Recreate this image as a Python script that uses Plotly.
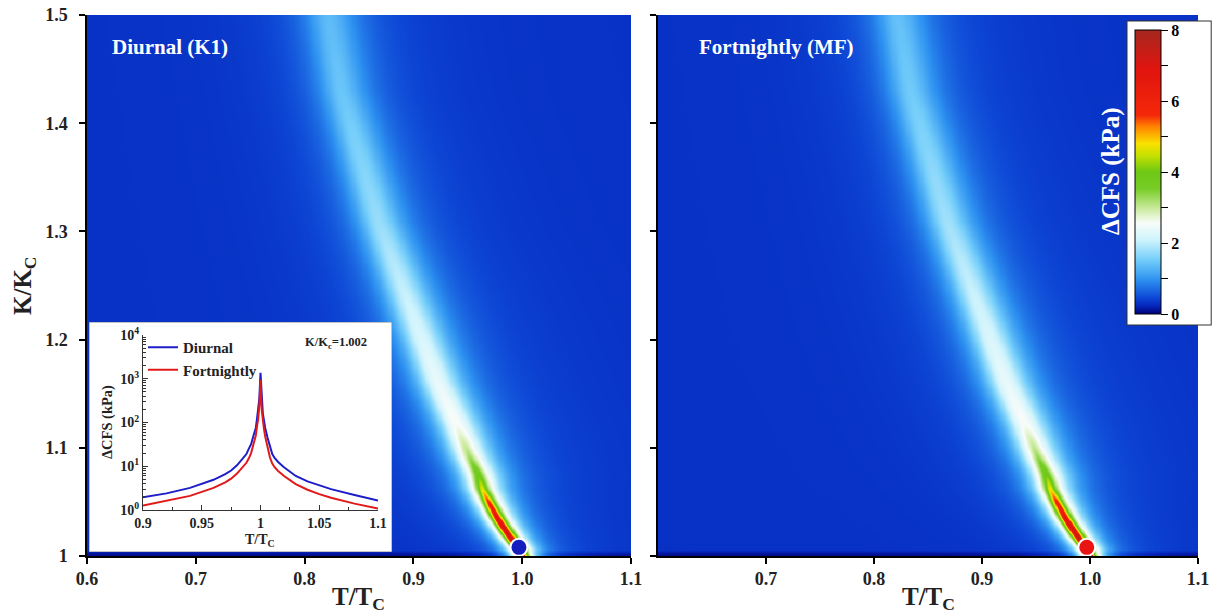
import numpy as np
import plotly.graph_objects as go

# ---- ridge of the ΔCFS response (K/Kc -> resonant T/Tc, amplitudes in kPa) ----
ridge_K = [1.000, 1.008, 1.020, 1.035, 1.050, 1.062, 1.076, 1.095, 1.120, 1.160, 1.220, 1.310, 1.430, 1.500]
ridge_T = [1.000, 0.996, 0.987, 0.977, 0.969, 0.963, 0.959, 0.950, 0.940, 0.922, 0.900, 0.867, 0.833, 0.821]
halo_peak_k1 = [2.8, 2.8, 2.75, 2.7, 2.65, 2.6, 2.55, 2.45, 2.3, 2.1, 1.85, 1.45, 1.15, 1.05]
halo_peak_mf = [2.8, 2.8, 2.75, 2.7, 2.65, 2.6, 2.55, 2.45, 2.3, 2.1, 1.85, 1.5, 1.2, 1.1]
halo_width = [0.009, 0.010, 0.011, 0.012, 0.013, 0.014, 0.015, 0.016, 0.017, 0.018, 0.019, 0.020, 0.021, 0.022]
core_peak_k1 = [4.5, 4.5, 4.3, 3.8, 2.8, 1.8, 1.0, 0.4, 0.0, 0.0, 0.0, 0.0, 0.0, 0.0]
core_peak_mf = [4.6, 4.6, 4.4, 3.9, 2.9, 1.9, 1.1, 0.45, 0.0, 0.0, 0.0, 0.0, 0.0, 0.0]
core_width = [0.0034, 0.0034, 0.0036, 0.0038, 0.004, 0.0042, 0.0044, 0.0044, 0.0044, 0.0044, 0.0044, 0.0044, 0.0044, 0.0044]
floor_K = [1.000, 1.0025, 1.006, 1.500]
floor_val = [0.06, 0.10, 0.30, 0.30]

# ---- inset: ΔCFS at K/Kc = 1.002 ----
inset_T = [0.9, 0.92, 0.94, 0.95, 0.96, 0.97, 0.975, 0.98, 0.985, 0.988, 0.99, 0.992, 0.994,
           0.996, 0.997, 0.998, 0.999, 1.0, 1.001, 1.002, 1.003, 1.004, 1.006, 1.008, 1.01,
           1.012, 1.015, 1.02, 1.03, 1.04, 1.05, 1.06, 1.08, 1.1]
inset_diurnal = [1.95, 2.4, 3.2, 3.9, 4.9, 6.6, 8.0, 10.5, 15, 19, 25, 32, 50,
                 75, 120, 180, 350, 1370, 300, 160, 110, 75, 45, 27, 19,
                 15.5, 12.5, 9.5, 6.0, 4.5, 3.6, 3.0, 2.2, 1.65]
inset_fortnightly = [1.26, 1.6, 2.1, 2.6, 3.2, 4.3, 5.2, 6.8, 9.5, 12, 15, 20, 32,
                     50, 80, 120, 240, 950, 200, 105, 70, 48, 28, 16, 11.5,
                     9.5, 7.8, 6.0, 3.9, 2.9, 2.3, 1.9, 1.4, 1.08]

# ---- source points ----
dot_T = [0.997]
dot_K = [1.008]

x_ticks = [0.6, 0.7, 0.8, 0.9, 1.0, 1.1]
x_ticktext = ["0.6", "0.7", "0.8", "0.9", "1.0", "1.1"]
y_ticks = [1.0, 1.1, 1.2, 1.3, 1.4, 1.5]
y_ticktext = ["1", "1.1", "1.2", "1.3", "1.4", "1.5"]
cb_ticks = [0, 1, 2, 3, 4, 5, 6, 7, 8]
cb_ticktext = ["0", "", "2", "", "4", "", "6", "", "8"]
log_minor = [m * 10 ** e for e in range(4) for m in range(2, 10)]

# grid
T = np.linspace(0.6, 1.1, 501)
K = np.linspace(1.0, 1.5, 501)
TT, KK = np.meshgrid(T, K)


def field(halo_peak, core_peak):
    tr = np.interp(KK, ridge_K, ridge_T)
    hp = np.interp(KK, ridge_K, halo_peak)
    hw = np.interp(KK, ridge_K, halo_width)
    cp = np.interp(KK, ridge_K, core_peak)
    cw = np.interp(KK, ridge_K, core_width)
    fl = np.interp(KK, floor_K, floor_val)
    d = TT - tr
    hw_side = np.where(d > 0, hw * 1.25, hw)
    return fl + hp / (1 + (d / hw_side) ** 2) + cp / (1 + (d / cw) ** 2)


z_k1 = field(halo_peak_k1, core_peak_k1)
z_mf = field(halo_peak_mf, core_peak_mf)

colorscale = [
    [0.00, "rgb(0,0,120)"],
    [0.03, "rgb(5,40,190)"],
    [0.06, "rgb(15,75,215)"],
    [0.12, "rgb(45,145,240)"],
    [0.19, "rgb(115,205,250)"],
    [0.26, "rgb(205,243,252)"],
    [0.32, "rgb(248,252,250)"],
    [0.37, "rgb(205,235,160)"],
    [0.44, "rgb(120,205,40)"],
    [0.50, "rgb(110,200,20)"],
    [0.56, "rgb(200,225,0)"],
    [0.60, "rgb(250,225,0)"],
    [0.66, "rgb(255,130,0)"],
    [0.70, "rgb(245,40,10)"],
    [0.86, "rgb(225,20,15)"],
    [1.00, "rgb(165,40,30)"],
]

SERIF = "Liberation Serif"
W, H = 1213, 613
NB = "\u00a0"


def px(x):
    return x / W


def py(y):
    return 1 - y / H


fig = go.Figure()

fig.add_trace(go.Heatmap(
    x=T, y=K, z=z_k1, zmin=0, zmax=8, colorscale=colorscale, zsmooth="best",
    showscale=False, xaxis="x", yaxis="y", hoverinfo="skip"))
fig.add_trace(go.Heatmap(
    x=T, y=K, z=z_mf, zmin=0, zmax=8, colorscale=colorscale, zsmooth="best",
    xaxis="x2", yaxis="y2", hoverinfo="skip",
    colorbar=dict(
        x=px(1128), xanchor="left", y=py(172), yanchor="middle",
        lenmode="pixels", len=302, thickness=26,
        bgcolor="white", bordercolor="#333", borderwidth=1,
        outlinecolor="black", outlinewidth=1, xpad=7, ypad=9,
        tickvals=cb_ticks, ticktext=[t + NB * 6 if t else t for t in cb_ticktext],
        ticks="outside", ticklen=7, tickcolor="black",
        tickfont=dict(family=SERIF, size=16, color="black", weight="bold"))))

fig.add_trace(go.Scatter(
    x=dot_T, y=dot_K, mode="markers", xaxis="x", yaxis="y", showlegend=False,
    marker=dict(size=17, color="rgb(20,30,190)", line=dict(color="white", width=2))))
fig.add_trace(go.Scatter(
    x=dot_T, y=dot_K, mode="markers", xaxis="x2", yaxis="y2", showlegend=False,
    marker=dict(size=17, color="rgb(235,20,20)", line=dict(color="white", width=2))))

# white panel behind the inset
fig.add_trace(go.Scatter(
    x=[0, 1, 1, 0, 0], y=[0, 0, 1, 1, 0], mode="lines", fill="toself",
    fillcolor="white", line=dict(color="#888", width=1), xaxis="x3", yaxis="y3",
    showlegend=False, hoverinfo="skip"))

fig.add_trace(go.Scatter(
    x=inset_T, y=inset_diurnal, mode="lines", name="Diurnal", xaxis="x4", yaxis="y4",
    line=dict(color="rgb(30,30,200)", width=2)))
fig.add_trace(go.Scatter(
    x=inset_T, y=inset_fortnightly, mode="lines", name="Fortnightly", xaxis="x4", yaxis="y4",
    line=dict(color="rgb(225,25,25)", width=2)))

tickfont = dict(family=SERIF, size=18, color="#222", weight="bold")
inset_tickfont = dict(family=SERIF, size=14, color="#222", weight="bold")
main_y_dom = [py(556), py(15)]
common = dict(showgrid=False, zeroline=False, automargin=False)

fig.update_layout(
    width=W, height=H,
    margin=dict(l=0, r=0, t=0, b=0, pad=0),
    paper_bgcolor="white", plot_bgcolor="white",
    xaxis=dict(domain=[px(87), px(631)], range=[0.6, 1.1], tickvals=x_ticks, ticktext=x_ticktext,
               ticks="outside", ticklen=6, tickwidth=1.5, tickcolor="black", showline=True,
               linecolor="black", linewidth=1.5, tickfont=tickfont, anchor="y", **common),
    yaxis=dict(domain=main_y_dom, range=[1.0, 1.5], tickvals=y_ticks, ticktext=y_ticktext,
               ticks="outside", ticklen=6, tickwidth=1.5, tickcolor="black", showline=True,
               linecolor="black", linewidth=1.5, tickfont=tickfont, anchor="x",
               ticklabelstandoff=8, **common),
    xaxis2=dict(domain=[px(658), px(1198)], range=[0.6, 1.1], tickvals=x_ticks[1:],
                ticktext=x_ticktext[1:], ticks="outside", ticklen=6, tickwidth=1.5,
                tickcolor="black", showline=True, linecolor="black", linewidth=1.5,
                tickfont=tickfont, anchor="y2", **common),
    yaxis2=dict(domain=main_y_dom, range=[1.0, 1.5], tickvals=y_ticks, showticklabels=False,
                ticks="outside", ticklen=6, tickwidth=1.5, tickcolor="black", showline=True,
                linecolor="black", linewidth=1.5, anchor="x2", **common),
    xaxis3=dict(domain=[px(89), px(392)], range=[0, 1], visible=False, anchor="y3", **common),
    yaxis3=dict(domain=[py(552), py(322)], range=[0, 1], visible=False, anchor="x3", **common),
    xaxis4=dict(domain=[px(143), px(378)], range=[0.9, 1.1],
                tickvals=[0.9, 0.95, 1.0, 1.05, 1.1], ticktext=["0.9", "0.95", "1", "1.05", "1.1"],
                ticks="inside", ticklen=5, tickcolor="#333", showline=True, linecolor="#333",
                linewidth=1, anchor="y4",
                minor=dict(ticks="inside", ticklen=3, tickcolor="#333",
                           tickvals=[0.925, 0.975, 1.025, 1.075], showgrid=False),
                tickfont=inset_tickfont, **common),
    yaxis4=dict(domain=[py(510), py(335)], type="log", range=[0, 4],
                tickvals=[1, 10, 100, 1000, 10000],
                ticktext=["10<sup>0</sup>", "10<sup>1</sup>", "10<sup>2</sup>",
                          "10<sup>3</sup>", "10<sup>4</sup>"],
                ticks="inside", ticklen=5, tickcolor="#333", showline=True, linecolor="#333",
                linewidth=1, anchor="x4",
                minor=dict(ticks="inside", ticklen=3, tickcolor="#333", tickvals=log_minor,
                           showgrid=False),
                tickfont=inset_tickfont, **common),
    legend=dict(x=px(143), y=py(331), xanchor="left", yanchor="top",
                bgcolor="rgba(0,0,0,0)", borderwidth=0, tracegroupgap=0,
                font=dict(family=SERIF, size=15, color="#222", weight="bold"),
                itemwidth=30),
    showlegend=True,
)

annotations = [
    dict(text="<b>Diurnal (K1)</b>", x=px(110), y=py(47), xanchor="left", yanchor="middle",
         font=dict(family=SERIF, size=21, color="white")),
    dict(text="<b>Fortnightly (MF)</b>", x=px(697), y=py(47), xanchor="left", yanchor="middle",
         font=dict(family=SERIF, size=21, color="white")),
    dict(text="<b>T/T<sub>C</sub></b>", x=px(358), y=py(598), xanchor="center", yanchor="middle",
         font=dict(family=SERIF, size=25, color="#222")),
    dict(text="<b>T/T<sub>C</sub></b>", x=px(928), y=py(598), xanchor="center", yanchor="middle",
         font=dict(family=SERIF, size=25, color="#222")),
    dict(text="<b>K/K<sub>C</sub></b>", x=px(24), y=py(286), xanchor="center", yanchor="middle",
         textangle=-90, font=dict(family=SERIF, size=25, color="#222")),
    dict(text="<b>ΔCFS (kPa)</b>", x=px(1111), y=py(172), xanchor="center", yanchor="middle",
         textangle=-90, font=dict(family=SERIF, size=25, color="white")),
    dict(text="<b>K/K<sub>c</sub>=1.002</b>", x=px(369), y=py(343), xanchor="right",
         yanchor="middle", font=dict(family=SERIF, size=12.5, color="#222")),
    dict(text="<b>ΔCFS (kPa)</b>", x=px(107), y=py(422), xanchor="center", yanchor="middle",
         textangle=-90, font=dict(family=SERIF, size=14.5, color="#222")),
    dict(text="<b>T/T<sub>C</sub></b>", x=px(260), y=py(540), xanchor="center", yanchor="middle",
         font=dict(family=SERIF, size=14, color="#222")),
]
for a in annotations:
    a.update(xref="paper", yref="paper", showarrow=False)
fig.update_layout(annotations=annotations)

fig.write_html("out.html")
